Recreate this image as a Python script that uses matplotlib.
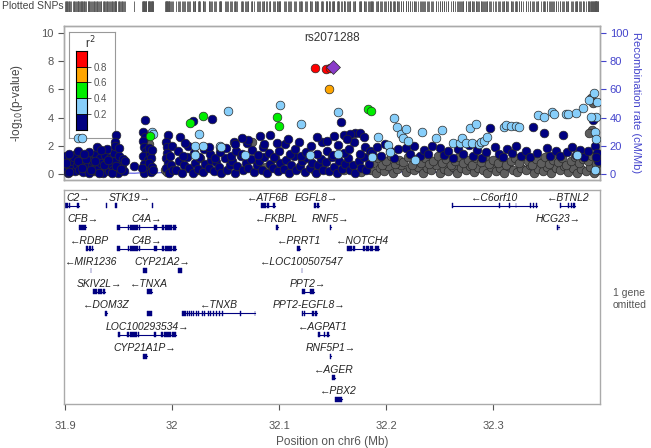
import matplotlib
matplotlib.use("Agg")
import matplotlib.pyplot as plt
from matplotlib.patches import Rectangle

plt.rcParams['font.family'] = ['Liberation Sans', 'DejaVu Sans']

# ---- association results (position Mb, -log10 p) by r2 class ----
ref_snp = [(32.150, 7.62)]
red_pts = [(32.1336, 7.50), (32.1433, 7.42), (32.1470, 7.52)]
orange_pts = [(32.1464, 6.0)]
green_pts = [(31.979, 2.7), (32.017, 3.59), (32.029, 4.09), (32.098, 4.04),
             (32.100, 3.43), (32.183, 4.63), (32.186, 4.49)]
lightblue_pts = [(31.9125, 2.53), (31.9156, 2.53), (31.981, 3.0), (31.9825, 2.85),
                 (32.021, 1.95), (32.021, 1.35), (32.0246, 2.81), (32.029, 1.98),
                 (32.0445, 1.95), (32.046, 1.94), (32.052, 4.45), (32.068, 1.35),
                 (32.101, 4.87), (32.1206, 3.57), (32.129, 1.35), (32.1545, 4.40),
                 (32.1545, 1.42), (32.1866, 1.23), (32.192, 2.6), (32.2012, 2.06),
                 (32.2037, 1.58), (32.207, 3.95), (32.210, 3.36), (32.2137, 2.81),
                 (32.2155, 2.57), (32.2187, 3.21), (32.220, 2.34), (32.227, 0.99),
                 (32.2336, 3.0), (32.2467, 2.53), (32.2523, 3.12), (32.2623, 2.22),
                 (32.269, 2.22), (32.2707, 2.53), (32.2748, 2.22), (32.278, 3.24),
                 (32.280, 2.2), (32.284, 3.52), (32.2863, 2.1), (32.288, 2.3),
                 (32.291, 2.37), (32.294, 2.6), (32.3096, 3.3), (32.312, 3.45),
                 (32.316, 3.4), (32.3206, 3.4), (32.3237, 3.3), (32.342, 4.18),
                 (32.347, 4.04), (32.355, 4.40), (32.357, 4.23), (32.368, 4.23),
                 (32.370, 4.23), (32.377, 4.33), (32.378, 1.35), (32.384, 4.66),
                 (32.389, 5.25), (32.394, 5.77), (32.397, 5.13), (32.396, 4.07),
                 (32.3907, 4.07), (32.395, 3.0), (32.396, 2.5), (32.3945, 0.28)]
navy_pts = [
    # left block
    (31.900, 0.35), (31.901, 1.3), (31.902, 0.7), (31.903, 0.1), (31.905, 1.1),
    (31.906, 0.5), (31.907, 0.9), (31.909, 0.2), (31.910, 1.4), (31.911, 0.6),
    (31.913, 0.3), (31.914, 1.0), (31.915, 0.8), (31.917, 0.15), (31.918, 1.25),
    (31.919, 0.45), (31.921, 0.7), (31.922, 0.05), (31.923, 1.2), (31.925, 0.55),
    (31.926, 0.95), (31.927, 0.25), (31.929, 1.45), (31.930, 0.6), (31.931, 0.35),
    (31.933, 1.1), (31.934, 0.75), (31.935, 0.1), (31.937, 1.35), (31.938, 0.5),
    (31.939, 0.85), (31.941, 0.2), (31.942, 1.15), (31.943, 0.65), (31.945, 0.3),
    (31.946, 1.5), (31.947, 0.9), (31.949, 0.1), (31.950, 1.25), (31.951, 0.45),
    (31.953, 0.7), (31.954, 1.05), (31.955, 0.2),
    (31.9005, 0.8), (31.904, 0.15), (31.908, 1.2), (31.912, 0.9), (31.916, 0.4),
    (31.920, 1.05), (31.924, 0.3), (31.928, 0.95), (31.932, 0.05), (31.936, 0.6),
    (31.940, 1.0), (31.944, 0.05), (31.948, 0.55), (31.952, 0.35), (31.9555, 0.9),
    (31.9296, 1.94), (31.948, 2.77), (31.9465, 2.3), (31.947, 2.0), (31.9395, 1.75),
    (31.922, 1.55), (31.912, 1.6), (31.934, 1.7), (31.9505, 1.85), (31.9035, 1.4),
    (31.918, 1.45),
    # column near 31.975
    (31.9645, 0.59), (31.9748, 3.83), (31.973, 3.0), (31.975, 2.6), (31.9725, 2.35),
    (31.974, 1.9), (31.976, 1.6), (31.973, 1.3), (31.977, 1.0), (31.9735, 0.7),
    (31.976, 0.4), (31.974, 0.1), (31.979, 1.45), (31.980, 1.1), (31.9785, 0.8),
    (31.981, 0.5), (31.980, 0.15), (31.978, 1.85), (31.9715, 0.45), (31.982, 0.3),
    (31.981, 1.7),
    # column near 31.996
    (31.9965, 2.77), (31.994, 2.3), (31.995, 1.9), (31.9955, 1.5), (31.9945, 1.1),
    (31.996, 0.75), (31.994, 0.4), (31.997, 0.1), (31.998, 1.3), (31.999, 0.6),
    (32.000, 2.0), (32.001, 0.25),
    # middle block
    (32.004, 0.3), (32.006, 0.9), (32.009, 0.1), (32.011, 0.6), (32.014, 1.2),
    (32.016, 0.4), (32.019, 0.05), (32.021, 0.8), (32.024, 0.35), (32.026, 1.1),
    (32.029, 0.15), (32.031, 0.7), (32.034, 0.45), (32.036, 1.0), (32.039, 0.2),
    (32.041, 0.85), (32.044, 0.5), (32.046, 0.1), (32.049, 1.15), (32.051, 0.3),
    (32.054, 0.65), (32.056, 0.95), (32.059, 0.05), (32.061, 0.55), (32.064, 1.25),
    (32.066, 0.25), (32.069, 0.75), (32.071, 0.4), (32.074, 1.05), (32.076, 0.15),
    (32.079, 0.6), (32.081, 0.9), (32.084, 0.3), (32.086, 1.2), (32.089, 0.05),
    (32.091, 0.7), (32.094, 0.45), (32.096, 1.1), (32.099, 0.2), (32.101, 0.8),
    (32.104, 0.35), (32.106, 1.0), (32.109, 0.1), (32.111, 0.65), (32.114, 1.3),
    (32.116, 0.25), (32.119, 0.55), (32.121, 0.9), (32.124, 0.15), (32.126, 1.15),
    (32.129, 0.4), (32.131, 0.75), (32.134, 0.05), (32.136, 0.6), (32.139, 1.05),
    (32.141, 0.3), (32.144, 0.85), (32.146, 0.2), (32.149, 1.2), (32.151, 0.5),
    (32.154, 0.1), (32.156, 0.95), (32.159, 0.35), (32.161, 0.7), (32.164, 1.1),
    (32.166, 0.25), (32.169, 0.6), (32.171, 0.05), (32.174, 0.9), (32.176, 0.45),
    (32.179, 1.2), (32.181, 0.3), (32.184, 0.7),
    (32.005, 1.6), (32.010, 1.3), (32.015, 2.0), (32.020, 1.5), (32.025, 1.2),
    (32.030, 1.75), (32.035, 1.4), (32.040, 1.1), (32.045, 1.55), (32.050, 1.85),
    (32.055, 1.25), (32.060, 1.6), (32.065, 1.45), (32.070, 2.2), (32.075, 1.7),
    (32.080, 1.35), (32.085, 1.9), (32.090, 1.5), (32.095, 1.2), (32.100, 1.65),
    (32.105, 2.1), (32.110, 1.4), (32.115, 1.75), (32.120, 1.3), (32.125, 1.55),
    (32.130, 1.95), (32.135, 1.45), (32.140, 2.25), (32.145, 1.6), (32.150, 1.35),
    (32.155, 2.05), (32.160, 1.5), (32.165, 1.8), (32.170, 2.3), (32.175, 1.45),
    (32.180, 1.9), (32.185, 1.65),
    (32.0075, 2.65), (32.012, 2.2), (32.0199, 3.78), (32.034, 1.94), (32.037, 3.88),
    (32.0449, 1.94), (32.0573, 2.3), (32.0589, 2.13), (32.0822, 2.7), (32.0916, 2.77),
    (32.0853, 2.1), (32.1352, 2.65), (32.1507, 2.7), (32.158, 3.71), (32.160, 2.77),
    (32.171, 2.93), (32.1757, 2.93), (32.1788, 2.65), (32.166, 2.85), (32.163, 2.5),
    (32.145, 2.35), (32.118, 2.3), (32.108, 2.45), (32.098, 2.2), (32.071, 2.4),
    (32.065, 2.55),
    # right block
    (32.187, 1.5), (32.191, 1.9), (32.195, 1.3), (32.199, 2.1), (32.203, 1.6),
    (32.207, 1.1), (32.211, 1.75), (32.2187, 1.84), (32.222, 1.45), (32.226, 2.0),
    (32.231, 1.25), (32.235, 1.7), (32.239, 1.4), (32.243, 1.95), (32.250, 1.87),
    (32.254, 1.35), (32.258, 1.6), (32.262, 1.15), (32.267, 1.8), (32.272, 1.4),
    (32.277, 2.05), (32.281, 1.3), (32.285, 1.7), (32.289, 1.1), (32.293, 1.55),
    (32.297, 3.24), (32.301, 1.9), (32.305, 1.45), (32.309, 1.2), (32.313, 1.75),
    (32.317, 1.5), (32.321, 1.95), (32.326, 1.3), (32.330, 1.65), (32.334, 1.2),
    (32.337, 3.33), (32.341, 1.5), (32.347, 2.93), (32.350, 1.85), (32.353, 1.3),
    (32.358, 1.6), (32.362, 1.25), (32.365, 2.77), (32.369, 1.55), (32.373, 1.9),
    (32.377, 1.35), (32.381, 1.7), (32.385, 1.2), (32.388, 1.6), (32.393, 3.83),
    (32.395, 2.0), (32.397, 1.5), (32.398, 0.9), (32.396, 1.2)]
gray_pts = [
    (31.902, 0.55), (31.908, 0.3), (31.915, 0.5), (31.921, 0.35), (31.927, 0.2),
    (31.936, 0.4), (31.944, 0.25), (31.953, 0.45),
    (31.976, 2.25), (31.977, 2.0), (31.978, 2.15),
    (31.9935, 0.3), (31.9955, 0.15), (31.9966, 0.4), (31.9975, 0.55),
    (32.0255, 0.3), (32.075, 2.3), (32.088, 0.5), (32.133, 0.2), (32.1395, 0.6),
    (32.160, 0.3), (32.176, 0.15),
    (32.186, 0.3), (32.190, 0.1), (32.194, 0.45), (32.198, 0.2), (32.202, 0.55),
    (32.206, 0.05), (32.210, 0.35), (32.214, 0.6), (32.218, 0.15), (32.222, 0.4),
    (32.226, 0.25), (32.230, 0.5), (32.234, 0.1), (32.238, 0.45), (32.242, 0.3),
    (32.246, 0.6), (32.250, 0.05), (32.254, 0.35), (32.258, 0.2), (32.262, 0.5),
    (32.266, 0.1), (32.270, 0.4), (32.274, 0.25), (32.278, 0.55), (32.282, 0.15),
    (32.286, 0.45), (32.290, 0.3), (32.294, 0.05), (32.298, 0.5), (32.302, 0.2),
    (32.306, 0.4), (32.310, 0.1), (32.314, 0.55), (32.318, 0.3), (32.322, 0.15),
    (32.326, 0.45), (32.330, 0.25), (32.334, 0.6), (32.338, 0.05), (32.342, 0.35),
    (32.346, 0.2), (32.350, 0.5), (32.354, 0.1), (32.358, 0.4), (32.362, 0.3),
    (32.366, 0.55), (32.370, 0.15), (32.374, 0.45), (32.378, 0.05), (32.382, 0.35),
    (32.386, 0.2), (32.390, 0.5), (32.394, 0.1), (32.398, 0.3),
    (32.188, 0.8), (32.192, 1.1), (32.196, 0.65), (32.200, 0.95), (32.204, 1.25),
    (32.208, 0.7), (32.212, 1.0), (32.216, 0.85), (32.220, 1.2), (32.224, 0.6),
    (32.228, 1.05), (32.232, 0.8), (32.236, 1.15), (32.240, 0.7), (32.244, 0.95),
    (32.248, 1.3), (32.252, 0.75), (32.256, 1.05), (32.260, 0.6), (32.264, 0.9),
    (32.268, 1.2), (32.272, 0.8), (32.276, 1.0), (32.280, 0.65), (32.284, 1.15),
    (32.288, 0.85), (32.292, 1.25), (32.296, 0.7), (32.300, 1.0), (32.304, 0.8),
    (32.308, 1.2), (32.312, 0.6), (32.316, 0.95), (32.320, 1.1), (32.324, 0.75),
    (32.328, 1.25), (32.332, 0.9), (32.336, 0.65), (32.340, 1.05), (32.344, 0.8),
    (32.348, 1.2), (32.352, 0.7), (32.356, 1.0), (32.360, 0.85), (32.364, 1.15),
    (32.368, 0.6), (32.372, 0.95), (32.376, 1.2), (32.380, 0.75), (32.384, 1.05),
    (32.388, 0.9), (32.392, 1.3), (32.396, 0.7),
    (32.391, 5.4), (32.393, 5.0), (32.392, 3.12), (32.389, 2.9)]

# recombination rate (cM/Mb)
recomb_pos = [31.899, 31.93, 31.956, 31.965, 31.972, 31.985, 31.995, 32.005,
              32.05, 32.10, 32.15, 32.20, 32.25, 32.30, 32.35, 32.399]
recomb_rate = [0.8, 0.9, 0.6, 0.5, 0.9, 0.7, 1.2, 1.0,
               1.5, 1.2, 2.0, 1.5, 1.2, 1.8, 2.5, 3.5]

# genes: name, row, strand, exons
gene_names = ["C2", "STK19", "ATF6B", "EGFL8", "C6orf10", "BTNL2",
              "CFB", "C4A", "FKBPL", "RNF5", "HCG23",
              "RDBP", "C4B", "PRRT1", "NOTCH4",
              "MIR1236", "CYP21A2", "LOC100507547",
              "SKIV2L", "TNXA", "PPT2",
              "DOM3Z", "TNXB", "PPT2-EGFL8",
              "LOC100293534", "AGPAT1",
              "CYP21A1P", "RNF5P1", "AGER", "PBX2"]
gene_rows = [1, 1, 1, 1, 1, 1,
             2, 2, 2, 2, 2,
             3, 3, 3, 3,
             4, 4, 4,
             5, 5, 5,
             6, 6, 6,
             7, 7,
             8, 8, 9, 10]
gene_strand = ["+", "+", "-", "+", "-", "-",
               "+", "+", "-", "+", "+",
               "-", "+", "-", "-",
               "-", "+", "-",
               "+", "-", "+",
               "-", "-", "+",
               "+", "-",
               "+", "+", "-", "-"]
c4_exons = [(31.9489, 31.9514), (31.9586, 31.9600), (31.9610, 31.9680), (31.9690, 31.9700),
            (31.9826, 31.9857), (31.9905, 31.9920), (31.9930, 32.0000), (32.0010, 32.0037)]
gene_exons = [
    [(31.9000, 31.9030), (31.9035, 31.9045), (31.9110, 31.9134)],
    [(31.9380, 31.9395), (31.9465, 31.9489), (31.9814, 31.9819)],
    [(32.0832, 32.0875), (32.0890, 32.0905), (32.0945, 32.0963)],
    [(32.1320, 32.1345), (32.1350, 32.1367)],
    [(32.2614, 32.2620), (32.3055, 32.3060), (32.3145, 32.3150), (32.3210, 32.3215),
     (32.3345, 32.3355), (32.3370, 32.3380), (32.3395, 32.3408)],
    [(32.3626, 32.3635), (32.3695, 32.3705), (32.3720, 32.3730), (32.3745, 32.3766)],
    [(31.9131, 31.9196)],
    c4_exons,
    [(32.0972, 32.0984)],
    [(32.1474, 32.1482)],
    [(32.3598, 32.3603), (32.3608, 32.3613)],
    [(31.9196, 31.9215), (31.9225, 31.9245), (31.9250, 31.9265)],
    c4_exons,
    [(32.1165, 32.1196)],
    [(32.1632, 32.1660), (32.1665, 32.1680), (32.1690, 32.1710), (32.1780, 32.1800),
     (32.1810, 32.1840), (32.1850, 32.1880), (32.1890, 32.1928)],
    [(31.9238, 31.9242)],
    [(31.9732, 31.9765), (32.0055, 32.0090)],
    [(32.1208, 32.1216)],
    [(31.9265, 31.9300), (31.9310, 31.9345), (31.9350, 31.9374)],
    [(31.9763, 31.9810)],
    [(32.1211, 32.1240), (32.1290, 32.1320)],
    [(31.9377, 31.9395)],
    [(32.0090, 32.0125), (32.0135, 32.0145), (32.0155, 32.0165), (32.0175, 32.0185),
     (32.0195, 32.0205), (32.0225, 32.0235), (32.0245, 32.0255), (32.0275, 32.0285),
     (32.0300, 32.0310), (32.0330, 32.0340), (32.0355, 32.0365), (32.0385, 32.0395),
     (32.0410, 32.0420), (32.0440, 32.0450), (32.0465, 32.0475), (32.0630, 32.0645),
     (32.0772, 32.0776)],
    [(32.1212, 32.1225), (32.1235, 32.1245), (32.1310, 32.1320), (32.1330, 32.1352)],
    [(31.9498, 31.9515), (31.9580, 31.9600), (31.9610, 31.9670), (31.9680, 31.9690),
     (31.9830, 31.9850), (31.9900, 31.9915), (31.9925, 31.9990), (32.0000, 32.0037)],
    [(32.1358, 32.1380), (32.1420, 32.1430), (32.1445, 32.1460)],
    [(31.9730, 31.9763)],
    [(32.1475, 32.1481)],
    [(32.1490, 32.1520)],
    [(32.1523, 32.1585)]]
no_intron = ["STK19", "CYP21A2"]
extra_bits = [(6, 31.9763, 31.9810)]

xlim = (31.899, 32.3995)

fig = plt.figure(figsize=(6.51, 4.48), dpi=100)

# main association panel
ax = fig.add_axes([64/651, 1-180/448, 536/651, 154/448])
ax2 = ax.twinx()
ax.set_zorder(ax2.get_zorder() + 1)
ax.patch.set_visible(False)

ax2.plot(recomb_pos, recomb_rate, color='#5050e0', lw=0.8)
ax2.set_ylim(-4.3, 105)
ax2.set_yticks([0, 20, 40, 60, 80, 100])
ax2.tick_params(axis='y', colors='#4444cc', labelsize=8, length=4, width=0.8, pad=3)
ax2.set_ylabel("Recombination rate (cM/Mb)", color='#4444cc', fontsize=8,
               rotation=270, va='center', ha='center')
ax2.yaxis.set_label_coords(1.068, 0.5)

groups = [(gray_pts, '#5e5e5e'), (navy_pts, '#000080'), (lightblue_pts, '#87cefa'),
          (green_pts, '#00ee00'), (orange_pts, '#ffa500'), (red_pts, '#ff0000')]
for pts, col in groups:
    ax.scatter([p[0] for p in pts], [p[1] for p in pts], s=39, c=col,
               edgecolors='#2a2a2a', linewidths=0.5, zorder=3)
ax.scatter([p[0] for p in ref_snp], [p[1] for p in ref_snp], s=50, c='#8a3cc8',
           marker='D', edgecolors='#2a2a2a', linewidths=0.5, zorder=4)

ax.set_xlim(xlim)
ax.set_ylim(-0.43, 10.5)
ax.set_xticks([])
ax.set_yticks([0, 2, 4, 6, 8, 10])
ax.tick_params(axis='y', colors='#555555', labelsize=8, length=4.5, width=0.8, pad=3)
ax.set_ylabel("-log$_{10}$(p-value)", color='#444444', fontsize=8.5)
ax.yaxis.set_label_coords(-0.073, 0.5)
ax.text(0.5, 0.922, "rs2071288", transform=ax.transAxes, ha='center', va='center',
        fontsize=8.5, color='#333333')
for a in (ax, ax2):
    for sp in a.spines.values():
        sp.set_color('#aaaaaa')
        sp.set_linewidth(1)

# r2 legend
ax_leg = fig.add_axes([69/651, 1-138/448, 46/651, 106/448])
ax_leg.set_xticks([])
ax_leg.set_yticks([])
for sp in ax_leg.spines.values():
    sp.set_color('#999999')
ax_leg.text(0.46, 0.895, "r$^2$", transform=ax_leg.transAxes, ha='center', va='center',
            fontsize=8.5, color='#333333')
ax_cb = fig.add_axes([76/651, 1-130/448, 11/651, 79.3/448])
ld_colors = ['#000080', '#87cefa', '#00ee00', '#ffa500', '#ff0000']
ld_bottoms = [0, 0.2, 0.4, 0.6, 0.8]
ax_cb.bar(0, 0.2, bottom=ld_bottoms, color=ld_colors, width=1, edgecolor='black', lw=0.6)
ax_cb.set_xlim(-0.5, 0.5)
ax_cb.set_ylim(0, 1)
ax_cb.set_xticks([])
ax_cb.yaxis.tick_right()
ax_cb.set_yticks([0.2, 0.4, 0.6, 0.8])
ax_cb.set_yticklabels(["0.2", "0.4", "0.6", "0.8"])
ax_cb.tick_params(axis='y', colors='#555555', labelsize=7, length=3, width=0.7, pad=1.5)

# plotted SNPs strip
all_x = [p[0] for g in (gray_pts, navy_pts, lightblue_pts, green_pts, orange_pts,
                        red_pts, ref_snp) for p in g]
ax_s = fig.add_axes([64/651, 1-12/448, 536/651, 11/448])
ax_s.vlines(all_x, 0, 1, color='#555555', lw=0.6)
ax_s.set_xlim(xlim)
ax_s.set_ylim(0, 1)
ax_s.axis('off')
fig.text(2/651, 1-6/448, "Plotted SNPs", ha='left', va='center', fontsize=7.5,
         color='#444444')

# gene panel
axg = fig.add_axes([64/651, 1-404/448, 536/651, 214/448])
axg.set_xlim(xlim)
axg.set_ylim(10.23, 0.27)
exon_h = 0.23
for name, row, strand, exons in zip(gene_names, gene_rows, gene_strand, gene_exons):
    g0 = min(e[0] for e in exons)
    g1 = max(e[1] for e in exons)
    if name not in no_intron:
        axg.plot([g0, g1], [row, row], color='#000080', lw=0.8)
    for e0, e1 in exons:
        axg.add_patch(Rectangle((e0, row - exon_h/2), e1 - e0, exon_h,
                                facecolor='#000080', edgecolor='#000080', lw=0.3))
    label = name + "\u2192" if strand == "+" else "\u2190" + name
    mid = (g0 + g1) / 2
    if mid - 0.012 < xlim[0]:
        axg.text(xlim[0] + 0.002, row - 0.36, label, ha='left', va='center',
                 fontsize=7.5, style='italic', color='#222222')
    else:
        axg.text(mid, row - 0.36, label, ha='center', va='center',
                 fontsize=7.5, style='italic', color='#222222')
for row, e0, e1 in extra_bits:
    axg.add_patch(Rectangle((e0, row - exon_h/2), e1 - e0, exon_h,
                            facecolor='#000080', edgecolor='#000080', lw=0.3))

axg.set_yticks([])
axg.set_xticks([31.9, 32.0, 32.1, 32.2, 32.3])
axg.set_xticklabels(["31.9", "32", "32.1", "32.2", "32.3"])
axg.tick_params(axis='x', colors='#555555', labelsize=8, length=4, width=0.8, pad=8)
axg.set_xlabel("Position on chr6 (Mb)", color='#555555', fontsize=8.5, labelpad=4)
for sp in axg.spines.values():
    sp.set_color('#aaaaaa')
    sp.set_linewidth(1)

fig.text(613/651, 1-299/448, "1 gene\nomitted", ha='left', va='center', fontsize=7.5,
         color='#555555', linespacing=1.3)

fig.savefig("out.png", dpi=100)
